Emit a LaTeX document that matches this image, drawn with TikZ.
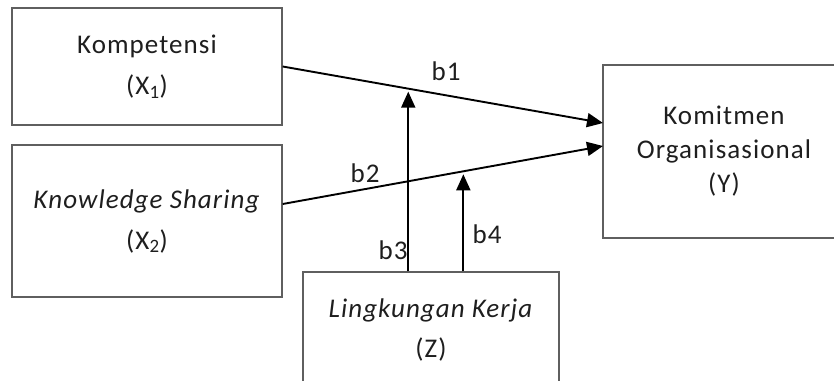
\documentclass[tikz,border=0pt]{standalone}
\usepackage{fontspec}
\setmainfont[LetterSpace=4]{Carlito}
\usetikzlibrary{arrows.meta}
\definecolor{boxgray}{RGB}{95,95,95}
\definecolor{txtgray}{RGB}{30,30,30}
\begin{document}
\begin{tikzpicture}[x=1pt,y=-1pt,
    every node/.style={text=txtgray,font=\fontsize{27}{34}\selectfont},
    varbox/.style={draw=boxgray,line width=1.4pt,align=center,inner sep=0pt},
    arr/.style={line width=1.9pt,-{Triangle[length=16pt,width=14pt]}}]
    \useasboundingbox (0,0) rectangle (834,380);
    \node[varbox,minimum width=270pt,minimum height=117pt] (komp) at (147,66.5) {Kompetensi\\[7pt](X\textsubscript{1})};
    \node[varbox,minimum width=270pt,minimum height=152pt] (know) at (147,221) {\textit{Knowledge Sharing}\\[7pt](X\textsubscript{2})};
    \node[varbox,minimum width=242pt,minimum height=173pt] (komit) at (724,151.5) {Komitmen\\Organisasional\\(Y)};
    \node[varbox,minimum width=256pt,minimum height=116pt] (ling) at (431,330) {\textit{Lingkungan Kerja}\\[6pt](Z)};
    \coordinate (y1) at (603,123);
    \coordinate (y2) at (603,146);
    \draw[arr] (komp.east) -- coordinate[pos=0.392] (m1) (y1);
    \draw[arr] ([yshift=17pt]know.east) -- coordinate[pos=0.564] (m2) (y2);
    \draw[arr,shorten >=3pt] (ling.north -| m1) -- (m1);
    \draw[arr,shorten >=3pt] (ling.north -| m2) -- (m2);
    \node (b1) at (446,71) {b1};
    \node (b2) at (365,173) {b2};
    \node (b3) at (393,250) {b3};
    \node (b4) at (487,234) {b4};
  \end{tikzpicture}
\end{document}
